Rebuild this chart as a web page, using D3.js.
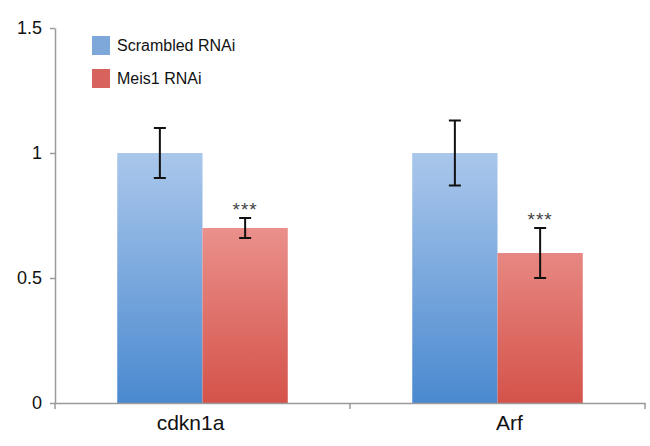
<!DOCTYPE html>
<html>
<head>
<meta charset="utf-8">
<script src="https://cdn.jsdelivr.net/npm/d3@7"></script>
<style>
  body { margin: 0; background: #fff; }
  svg { font-family: "Liberation Sans", Arial, sans-serif; }
</style>
</head>
<body>
<svg width="650" height="446"></svg>
<script>
const genes = ["cdkn1a", "Arf"];
const series = ["Scrambled RNAi", "Meis1 RNAi"];
const scrambled = [1.0, 1.0];
const scrambledErr = [0.1, 0.13];
const meis1 = [0.7, 0.6];
const meis1Err = [0.04, 0.1];
const yTicks = [0, 0.5, 1, 1.5];

const svg = d3.select("svg");
const margin = { left: 55, right: 5, top: 28, bottom: 43 };
const width = 650, height = 446;

const x = d3.scaleBand().domain(genes).range([margin.left, width - margin.right]);
const xInner = d3.scaleBand().domain(series).range([0, x.bandwidth()]).paddingOuter(0.73).paddingInner(0);
const y = d3.scaleLinear().domain([0, 1.5]).range([height - margin.bottom, margin.top]);

const colors = {
  "Scrambled RNAi": { top: "#aac7eb", bottom: "#4a89cf", swatch: "#7ea7da" },
  "Meis1 RNAi": { top: "#f4aaa7", bottom: "#d4534a", swatch: "#d6645c" },
};

const defs = svg.append("defs");
series.forEach((s, i) => {
  const g = defs.append("linearGradient").attr("id", "grad" + i)
    .attr("gradientUnits", "userSpaceOnUse")
    .attr("x1", 0).attr("x2", 0).attr("y1", y(1)).attr("y2", y(0));
  g.append("stop").attr("offset", 0).attr("stop-color", colors[s].top);
  g.append("stop").attr("offset", 1).attr("stop-color", colors[s].bottom);
});

const rows = genes.map((g, i) => ({
  gene: g,
  bars: [
    { s: series[0], v: scrambled[i], e: scrambledErr[i], k: 0 },
    { s: series[1], v: meis1[i], e: meis1Err[i], k: 1, star: true },
  ],
}));

const groups = svg.selectAll("g.grp").data(rows).join("g")
  .attr("class", "grp")
  .attr("transform", (d) => `translate(${x(d.gene)},0)`);

groups.selectAll("rect").data((d) => d.bars).join("rect")
  .attr("x", (d) => xInner(d.s))
  .attr("width", xInner.bandwidth())
  .attr("y", (d) => y(d.v))
  .attr("height", (d) => y(0) - y(d.v))
  .attr("fill", (d) => `url(#grad${d.k})`);

// error bars
const eb = groups.selectAll("g.err").data((d) => d.bars).join("g").attr("class", "err")
  .attr("stroke", "#111").attr("stroke-width", 2);
const cx = (d) => xInner(d.s) + xInner.bandwidth() / 2;
eb.append("line").attr("x1", cx).attr("x2", cx)
  .attr("y1", (d) => y(d.v + d.e)).attr("y2", (d) => y(d.v - d.e));
eb.append("line").attr("x1", (d) => cx(d) - 6).attr("x2", (d) => cx(d) + 6)
  .attr("y1", (d) => y(d.v + d.e)).attr("y2", (d) => y(d.v + d.e));
eb.append("line").attr("x1", (d) => cx(d) - 6).attr("x2", (d) => cx(d) + 6)
  .attr("y1", (d) => y(d.v - d.e)).attr("y2", (d) => y(d.v - d.e));

groups.selectAll("text.star").data((d) => d.bars.filter((b) => b.star)).join("text")
  .attr("class", "star")
  .attr("x", cx)
  .attr("y", (d) => y(d.v + d.e) - 2)
  .attr("text-anchor", "middle")
  .style("font-size", "19px")
  .style("fill", "#444")
  .style("letter-spacing", "1px")
  .text("***");

// axes
const axisColor = "#9a9a9a";
const yAxis = svg.append("g")
  .attr("transform", `translate(${margin.left},0)`)
  .call(d3.axisLeft(y).tickValues(yTicks).tickSize(5).tickSizeOuter(0).tickPadding(8)
    .tickFormat((d) => d3.format("")(d)));
yAxis.select(".domain").attr("stroke", axisColor).attr("stroke-width", 1.5);
yAxis.selectAll(".tick line").attr("stroke", axisColor).attr("stroke-width", 1.5);
yAxis.selectAll(".tick text").style("font-size", "18px").style("fill", "#111");

const xAxis = svg.append("g")
  .attr("transform", `translate(0,${y(0)})`)
  .call(d3.axisBottom(x).tickSize(0).tickPadding(12));
xAxis.select(".domain").attr("stroke", axisColor).attr("stroke-width", 1.5);
xAxis.selectAll(".tick text")
  .attr("dx", (d, i) => (i === 0 ? -12 : 12))
  .style("font-size", "21px").style("fill", "#111");

// band separators
const edges = [x.range()[0], ...genes.map((g) => x(g) + x.bandwidth())];
svg.selectAll("line.sep").data(edges).join("line")
  .attr("class", "sep")
  .attr("x1", (d) => d).attr("x2", (d) => d)
  .attr("y1", y(0)).attr("y2", y(0) + 6)
  .attr("stroke", axisColor).attr("stroke-width", 1.5);

// legend
const legend = svg.selectAll("g.leg").data(series).join("g")
  .attr("class", "leg")
  .attr("transform", (d, i) => `translate(92,${36 + i * 33})`);
legend.append("rect").attr("width", 18).attr("height", 19)
  .attr("fill", (d) => colors[d].swatch);
legend.append("text").attr("x", 25).attr("y", 15)
  .style("font-size", "16px").style("fill", "#111")
  .text((d) => d);
</script>
</body>
</html>
